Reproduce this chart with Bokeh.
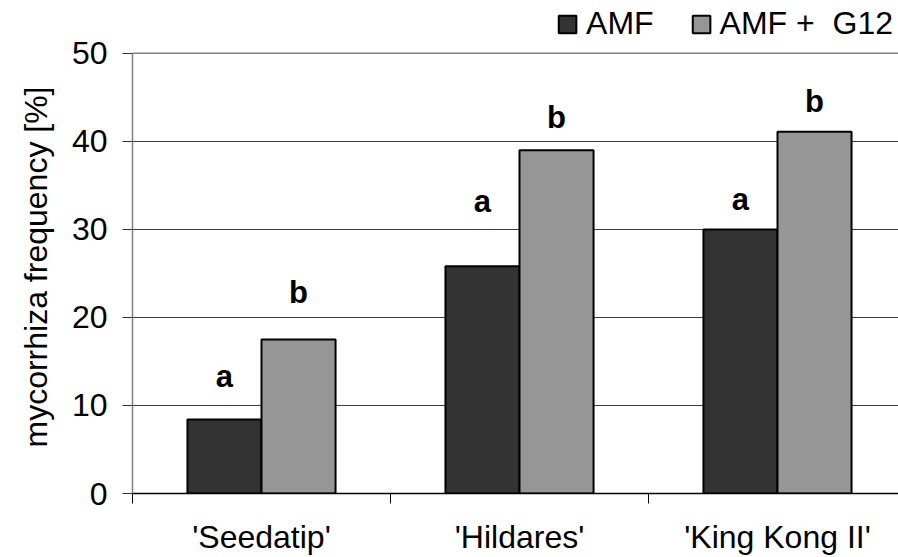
from bokeh.plotting import figure
from bokeh.models import (ColumnDataSource, Range1d, FixedTicker, Span, Legend, LegendItem, Title)
from bokeh.core.properties import value
from bokeh.embed import file_html
from bokeh.resources import INLINE

cultivars = ["'Seedatip'", "'Hildares'", "'King Kong II'"]
amf = [8.4, 25.8, 30.0]
amf_g12 = [17.5, 39.0, 41.1]
letters_amf = ["a", "a", "a"]
letters_g12 = ["b", "b", "b"]
letter_y_amf = [13.3, 33.2, 33.4]
letter_y_g12 = [22.8, 42.7, 44.5]
y_ticks = [0, 10, 20, 30, 40, 50]
y_label = "mycorrhiza frequency [%]"

FONT = "Liberation Sans"
idx = list(range(len(cultivars)))
bar_w = 0.287
x_amf = [i + 0.5 - bar_w / 2 for i in idx]
x_g12 = [i + 0.5 + bar_w / 2 for i in idx]

src = ColumnDataSource(dict(x_amf=x_amf, x_g12=x_g12, amf=amf, g12=amf_g12,
                            la=letters_amf, lb=letters_g12,
                            ya=letter_y_amf, yb=letter_y_g12))

p = figure(width=898, height=557, output_backend="svg", toolbar_location=None,
           x_range=Range1d(0, 2.969), y_range=Range1d(0, 56.0),
           min_border_left=132, min_border_right=0, min_border_top=0,
           min_border_bottom=63)
p.outline_line_color = None
p.background_fill_color = "white"
p.border_fill_color = "white"

r1 = p.vbar(x="x_amf", top="amf", width=bar_w, source=src, fill_color="#333333",
            line_color="black", line_width=2)
r2 = p.vbar(x="x_g12", top="g12", width=bar_w, source=src, fill_color="#969696",
            line_color="black", line_width=2)

p.text(x="x_amf", y="ya", text="la", source=src, text_align="center",
       text_baseline="middle", text_font=value(FONT), text_font_size="31px",
       text_font_style="bold", text_color="black")
p.text(x="x_g12", y="yb", text="lb", source=src, text_align="center",
       text_baseline="middle", text_font=value(FONT), text_font_size="31px",
       text_font_style="bold", text_color="black")

# grid
p.xgrid.visible = False
p.ygrid.ticker = FixedTicker(ticks=[10, 20, 30, 40])
p.ygrid.grid_line_color = "#404040"
p.ygrid.grid_line_width = 1
p.add_layout(Span(location=50, dimension="width", line_color="#808080", line_width=1.5))

# y axis
yax = p.yaxis[0]
yax.ticker = FixedTicker(ticks=y_ticks)
yax.bounds = (0, 50)
yax.axis_line_color = "#808080"
yax.axis_line_width = 1.5
yax.major_tick_out = 10
yax.major_tick_in = 0
yax.minor_tick_line_color = None
yax.major_tick_line_color = "#333333"
yax.major_label_text_font = FONT
yax.major_label_text_font_size = "32px"
yax.major_label_text_color = "black"
yax.major_label_standoff = 15

ytitle = Title(text=y_label, align="left", vertical_align="top", text_font=FONT,
               text_font_size="32px", text_font_style="normal", text_color="black",
               standoff=25, offset=46)
p.add_layout(ytitle, "left")

# x axis
xax = p.xaxis[0]
xax.ticker = FixedTicker(ticks=[i + 0.5 for i in idx], minor_ticks=[0, 1, 2, 3])
xax.major_label_overrides = {i + 0.5: c for i, c in zip(idx, cultivars)}
xax.axis_line_color = "black"
xax.axis_line_width = 1.5
xax.major_tick_out = 0
xax.major_tick_in = 0
xax.major_tick_line_color = None
xax.minor_tick_out = 10
xax.minor_tick_in = 0
xax.minor_tick_line_color = "black"
xax.major_label_text_font = FONT
xax.major_label_text_font_size = "32px"
xax.major_label_text_color = "black"
xax.major_label_standoff = 15

legend = Legend(items=[LegendItem(label="AMF", renderers=[r1]),
                       LegendItem(label="AMF +  G12", renderers=[r2])],
                location="top_right", orientation="horizontal",
                glyph_width=22, glyph_height=22, label_standoff=8, spacing=36,
                padding=0, margin=5, border_line_color=None,
                background_fill_alpha=0,
                label_text_font=FONT, label_text_font_size="32px",
                label_text_color="black")
p.add_layout(legend, "center")

open("out.html", "w").write(file_html(p, INLINE))
